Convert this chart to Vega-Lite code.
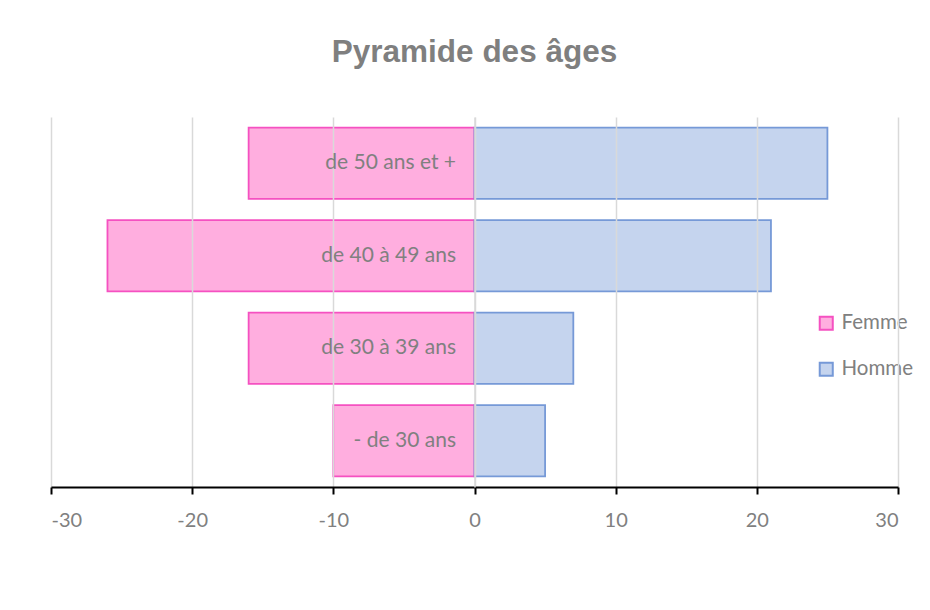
{
  "$schema": "https://vega.github.io/schema/vega-lite/v6.json",
  "autosize": "none",
  "width": 847,
  "height": 370,
  "padding": {"left": 51, "top": 117, "right": 32, "bottom": 123},
  "background": "white",
  "title": {
    "text": "Pyramide des âges",
    "font": "Liberation Sans",
    "fontSize": 31.5,
    "fontWeight": "bold",
    "color": "#7f7f7f",
    "anchor": "middle",
    "frame": "group",
    "offset": 49
  },
  "data": {
    "values": [
      {"age": "de 50 ans et +", "sexe": "Femme", "valeur": -16},
      {"age": "de 40 à 49 ans", "sexe": "Femme", "valeur": -26},
      {"age": "de 30 à 39 ans", "sexe": "Femme", "valeur": -16},
      {"age": "- de 30 ans", "sexe": "Femme", "valeur": -10},
      {"age": "de 50 ans et +", "sexe": "Homme", "valeur": 25},
      {"age": "de 40 à 49 ans", "sexe": "Homme", "valeur": 21},
      {"age": "de 30 à 39 ans", "sexe": "Homme", "valeur": 7},
      {"age": "- de 30 ans", "sexe": "Homme", "valeur": 5}
    ]
  },
  "mark": {"type": "bar", "strokeWidth": 1.8, "fillOpacity": 0.75},
  "encoding": {
    "y": {
      "field": "age",
      "type": "nominal",
      "sort": ["de 50 ans et +", "de 40 à 49 ans", "de 30 à 39 ans", "- de 30 ans"],
      "scale": {"paddingInner": 0.23, "paddingOuter": 0.115},
      "axis": {
        "title": null,
        "offset": -423.5,
        "zindex": 1,
        "ticks": false,
        "labelPadding": 19,
        "labelFont": "Lato",
        "labelFontSize": 21,
        "labelColor": "#808080",
        "domainColor": "#d9d9d9",
        "domainWidth": 1.5
      }
    },
    "x": {
      "field": "valeur",
      "type": "quantitative",
      "scale": {"domain": [-30, 30], "nice": false},
      "axis": {
        "title": null,
        "values": [-30, -20, -10, 0, 10, 20, 30],
        "labelExpr": "'' + datum.value",
        "zindex": 1,
        "grid": true,
        "gridColor": "#d9d9d9",
        "gridWidth": 1.5,
        "domainColor": "#000000",
        "domainWidth": 2,
        "tickColor": "#000000",
        "tickWidth": 2,
        "tickSize": 7,
        "labelPadding": 16,
        "labelFont": "Lato",
        "labelFontSize": 20,
        "labelColor": "#808080"
      }
    },
    "fill": {
      "field": "sexe",
      "type": "nominal",
      "scale": {"domain": ["Femme", "Homme"], "range": ["#FF93D4", "#B2C6E8"]},
      "legend": {
        "title": null,
        "orient": "none",
        "legendX": 765,
        "legendY": 196,
        "symbolType": "square",
        "symbolSize": 170,
        "symbolStrokeWidth": 2,
        "rowPadding": 24,
        "labelFont": "Lato",
        "labelFontSize": 20.5,
        "labelColor": "#808080",
        "labelOffset": 5,
        "encode": {"symbols": {"update": {"fillOpacity": {"value": 0.75}}}}
      }
    },
    "stroke": {
      "field": "sexe",
      "type": "nominal",
      "scale": {"domain": ["Femme", "Homme"], "range": ["#F551C1", "#7699D7"]},
      "legend": {
        "title": null,
        "orient": "none",
        "legendX": 765,
        "legendY": 196,
        "symbolType": "square",
        "symbolSize": 170,
        "symbolStrokeWidth": 2,
        "rowPadding": 24,
        "labelFont": "Lato",
        "labelFontSize": 20.5,
        "labelColor": "#808080",
        "labelOffset": 5,
        "encode": {"symbols": {"update": {"fillOpacity": {"value": 0.75}}}}
      }
    }
  },
  "config": {
    "view": {"stroke": null}
  }
}
